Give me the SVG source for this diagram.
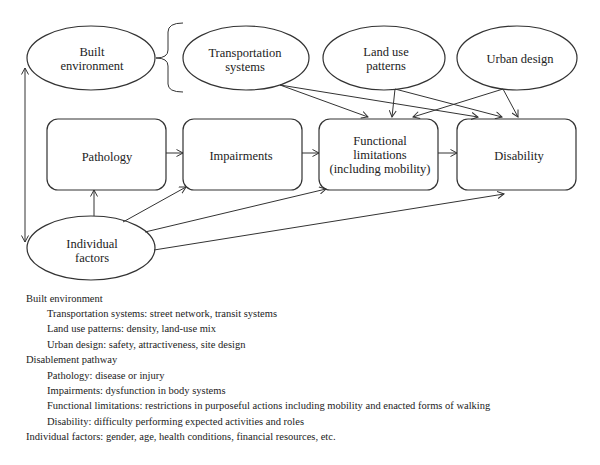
<svg xmlns="http://www.w3.org/2000/svg" width="600" height="465" viewBox="0 0 600 465">
<defs>
<style>
.shape{fill:#fff;stroke:#333;stroke-width:1.2}
.lbl{font-family:"Liberation Serif","Times New Roman",serif;font-size:12.5px;fill:#222;text-anchor:middle}
.leg{font-family:"Liberation Serif","Times New Roman",serif;font-size:10.5px;fill:#222}
.conn line,.conn path{stroke:#333;stroke-width:1;fill:none}
</style>
<marker id="ah" viewBox="0 0 8 8" refX="7" refY="4" markerWidth="8" markerHeight="8" markerUnits="userSpaceOnUse" orient="auto-start-reverse">
<path d="M0.5,0.5 L7,4 L0.5,7.5" fill="none" stroke="#333" stroke-width="1"/>
</marker>
</defs>
<rect width="600" height="465" fill="#fff"/>

<g id="built-environment">
<ellipse class="shape" cx="91" cy="58" rx="64" ry="32"/>
<text class="lbl" x="92" y="56">Built</text>
<text class="lbl" x="92" y="70">environment</text>
</g>
<g id="transportation-systems">
<ellipse class="shape" cx="246" cy="58" rx="63" ry="32"/>
<text class="lbl" x="245" y="57">Transportation</text>
<text class="lbl" x="245" y="71">systems</text>
</g>
<g id="land-use-patterns">
<ellipse class="shape" cx="384" cy="58" rx="61" ry="32"/>
<text class="lbl" x="386" y="56">Land use</text>
<text class="lbl" x="386" y="70">patterns</text>
</g>
<g id="urban-design">
<ellipse class="shape" cx="517" cy="58" rx="60" ry="32"/>
<text class="lbl" x="520" y="63">Urban design</text>
</g>
<g id="pathology">
<rect class="shape" x="47" y="119" width="119" height="71" rx="11"/>
<text class="lbl" x="107" y="161">Pathology</text>
</g>
<g id="impairments">
<rect class="shape" x="183" y="119" width="119" height="71" rx="11"/>
<text class="lbl" x="241" y="160">Impairments</text>
</g>
<g id="functional-limitations">
<rect class="shape" x="319" y="119" width="119" height="71" rx="11"/>
<text class="lbl" x="380" y="145">Functional</text>
<text class="lbl" x="380" y="159">limitations</text>
<text class="lbl" x="380" y="173">(including mobility)</text>
</g>
<g id="disability">
<rect class="shape" x="457" y="119" width="119" height="71" rx="11"/>
<text class="lbl" x="519" y="160">Disability</text>
</g>
<g id="individual-factors">
<ellipse class="shape" cx="91" cy="248" rx="64" ry="32"/>
<text class="lbl" x="92" y="248">Individual</text>
<text class="lbl" x="92" y="262">factors</text>
</g>

<g id="connectors" class="conn">
<path d="M183,23 Q168,23 168,32 L168,50 Q168,58 156,58 Q168,58 168,66 L168,84 Q168,92 183,92"/>
<line x1="25" y1="68" x2="25" y2="242" marker-start="url(#ah)" marker-end="url(#ah)"/>
<line x1="166" y1="153" x2="183" y2="153" marker-end="url(#ah)"/>
<line x1="302" y1="153" x2="319" y2="153" marker-end="url(#ah)"/>
<line x1="438" y1="153" x2="457" y2="153" marker-end="url(#ah)"/>
<line x1="94" y1="216" x2="94" y2="190" marker-end="url(#ah)"/>
<line x1="123" y1="222" x2="186" y2="187" marker-end="url(#ah)"/>
<line x1="145" y1="232" x2="326" y2="189" marker-end="url(#ah)"/>
<line x1="154" y1="250" x2="504" y2="194" marker-end="url(#ah)"/>
<line x1="280" y1="85" x2="368" y2="117" marker-end="url(#ah)"/>
<line x1="280" y1="85" x2="478" y2="117" marker-end="url(#ah)"/>
<line x1="395" y1="89" x2="392" y2="117" marker-end="url(#ah)"/>
<line x1="395" y1="89" x2="502" y2="117" marker-end="url(#ah)"/>
<line x1="503" y1="89" x2="413" y2="117" marker-end="url(#ah)"/>
<line x1="503" y1="89" x2="518" y2="117" marker-end="url(#ah)"/>
</g>

<g id="legend">
<text class="leg" x="26" y="302">Built environment</text>
<text class="leg" x="47" y="317">Transportation systems: street network, transit systems</text>
<text class="leg" x="47" y="332">Land use patterns: density, land-use mix</text>
<text class="leg" x="47" y="348">Urban design: safety, attractiveness, site design</text>
<text class="leg" x="26" y="363">Disablement pathway</text>
<text class="leg" x="47" y="379">Pathology: disease or injury</text>
<text class="leg" x="47" y="394">Impairments: dysfunction in body systems</text>
<text class="leg" x="47" y="409">Functional limitations: restrictions in purposeful actions including mobility and enacted forms of walking</text>
<text class="leg" x="47" y="425">Disability: difficulty performing expected activities and roles</text>
<text class="leg" x="26" y="440">Individual factors: gender, age, health conditions, financial resources, etc.</text>
</g>
</svg>
